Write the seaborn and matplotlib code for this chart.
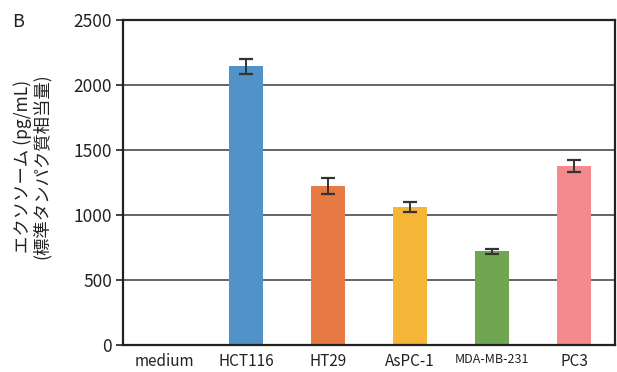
import numpy as np
import pandas as pd
import matplotlib
matplotlib.use("Agg")
import matplotlib.pyplot as plt
import seaborn as sns

cells = ["medium", "HCT116", "HT29", "AsPC-1", "MDA-MB-231", "PC3"]
exosome = [0, 2145, 1225, 1062, 722, 1378]
err = [0, 57, 62, 40, 20, 45]
colors = ["#FFFFFF", "#5192C9", "#E67A42", "#F5B537", "#70A651", "#F48A8D"]

sns.set_theme(style="white")
plt.rcParams["font.family"] = ["Noto Sans CJK JP", "DejaVu Sans"]

df = pd.DataFrame({"cell": cells, "value": exosome})

fig = plt.figure(figsize=(6.17, 3.72), dpi=100)
ax = fig.add_axes([123 / 617, 27 / 372, 492 / 617, 325 / 372])

ax.yaxis.grid(True, color="#4a4a4a", linewidth=1.2, zorder=0)
ax.set_axisbelow(True)
sns.barplot(data=df, x="cell", y="value", hue="cell", palette=colors,
            legend=False, width=0.42, saturation=1, linewidth=0, ax=ax, zorder=2)
ax.errorbar(np.arange(1, len(cells)), exosome[1:], yerr=err[1:], fmt="none",
            ecolor="#333333", elinewidth=1.4, capsize=5, capthick=1.6, zorder=3)

ax.set_ylim(0, 2500)
ax.set_xlim(-0.5, len(cells) - 0.5)
ax.set_yticks(range(0, 2501, 500))
ax.set_xticks(np.arange(len(cells)))
ax.set_xticklabels(cells)
ax.set_xticks(np.arange(-0.5, len(cells)), minor=True)
ax.tick_params(axis="x", which="major", length=0, labelsize=11, pad=6, colors="#222222")
ax.tick_params(axis="x", which="minor", direction="out", length=5, width=1.2, color="#222222")
ax.tick_params(axis="y", direction="out", length=5, width=1.2, labelsize=12.5,
               left=True, colors="#222222", pad=3)
for lbl in ax.get_xticklabels():
    if lbl.get_text() == "MDA-MB-231":
        lbl.set_fontsize(9)
        lbl.set_fontstretch("condensed")

for s in ax.spines.values():
    s.set_visible(True)
    s.set_color("#222222")
    s.set_linewidth(1.6)

ax.set_xlabel("")
ax.set_ylabel("エクソソーム (pg/mL)\n(標準タンパク質相当量)", fontsize=12.5,
              linespacing=1.0, color="#222222")
ax.yaxis.set_label_coords(-0.147, 0.55)
fig.text(12 / 617, 1 - 22 / 372, "B", fontsize=13, color="#222222", va="center")

fig.savefig("out.png", dpi=100)
